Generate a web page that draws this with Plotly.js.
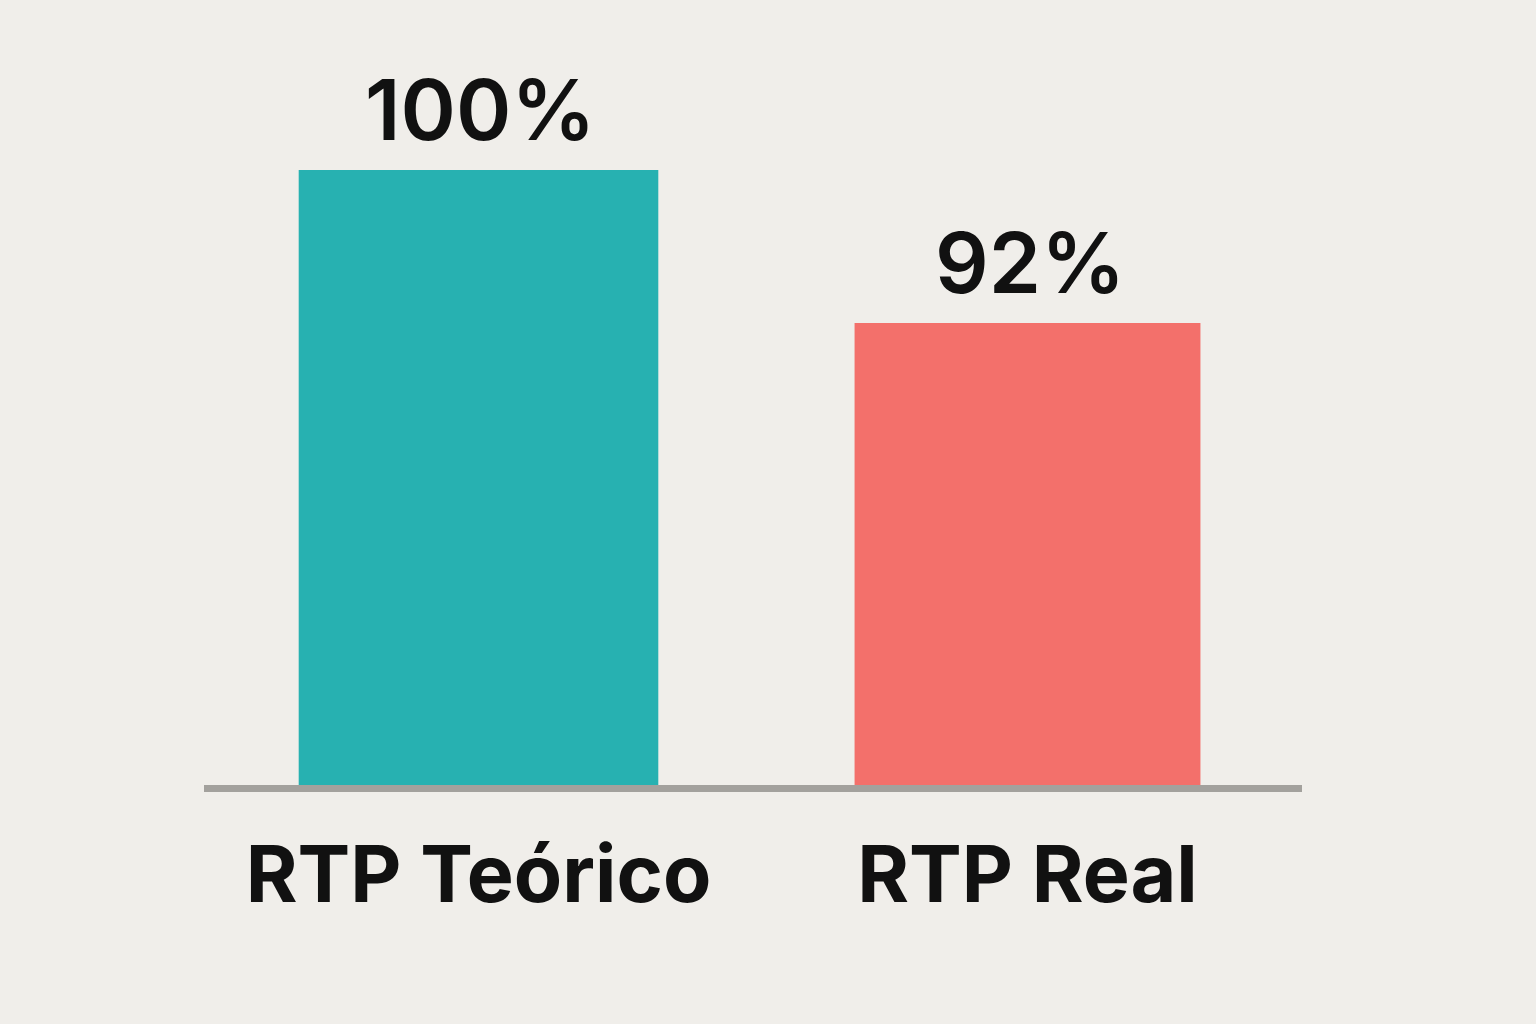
<!DOCTYPE html>
<html>
<head>
<meta charset="utf-8">
<script src="https://cdn.plot.ly/plotly-3.0.1.min.js"></script>
<style>
    html, body { margin: 0; padding: 0; background: #f0eeea; }
    #chart { width: 1536px; height: 1024px; }
</style>
</head>
<body>
<div id="chart"></div>
<script>
// chart values
var categories = ["RTP Teórico", "RTP Real"]
var values = [100, 92]
var valueLabels = ["100%", "92%"]
var barColors = ["#27b1b1", "#f3706b"]
var barWidths = [0.655, 0.63]

var data = [{
    type: 'bar',
    x: categories,
    y: values,
    width: barWidths,
    marker: { color: barColors, line: { width: 0 } },
    hoverinfo: 'skip'
}]

// value labels above each bar
var annotations = categories.map(function (cat, i) {
    return {
        x: cat,
        y: values[i],
        text: valueLabels[i],
        showarrow: false,
        yanchor: 'bottom',
        yshift: 8,
        xshift: 2,
        font: { family: 'Inter', size: 84, color: '#111111', weight: 600 }
    }
})

var layout = {
    width: 1536,
    height: 1024,
    paper_bgcolor: '#f0eeea',
    plot_bgcolor: 'rgba(0,0,0,0)',
    margin: { l: 204, r: 234, t: 0, b: 239 },
    showlegend: false,
    font: { family: 'Inter', color: '#111111' },
    xaxis: {
        type: 'category',
        range: [-0.5, 1.5],
        showgrid: false,
        zeroline: false,
        showline: true,
        linecolor: '#a3a19d',
        linewidth: 7,
        ticks: '',
        ticklabelstandoff: 15,
        tickfont: { family: 'Inter', size: 79, color: '#111111', weight: 700 },
        fixedrange: true
    },
    yaxis: {
        range: [67.84, 108.89],
        visible: false,
        showgrid: false,
        zeroline: false,
        fixedrange: true
    },
    annotations: annotations
}

var config = { displayModeBar: false, staticPlot: true }

Plotly.newPlot('chart', data, layout, config)
</script>
</body>
</html>
